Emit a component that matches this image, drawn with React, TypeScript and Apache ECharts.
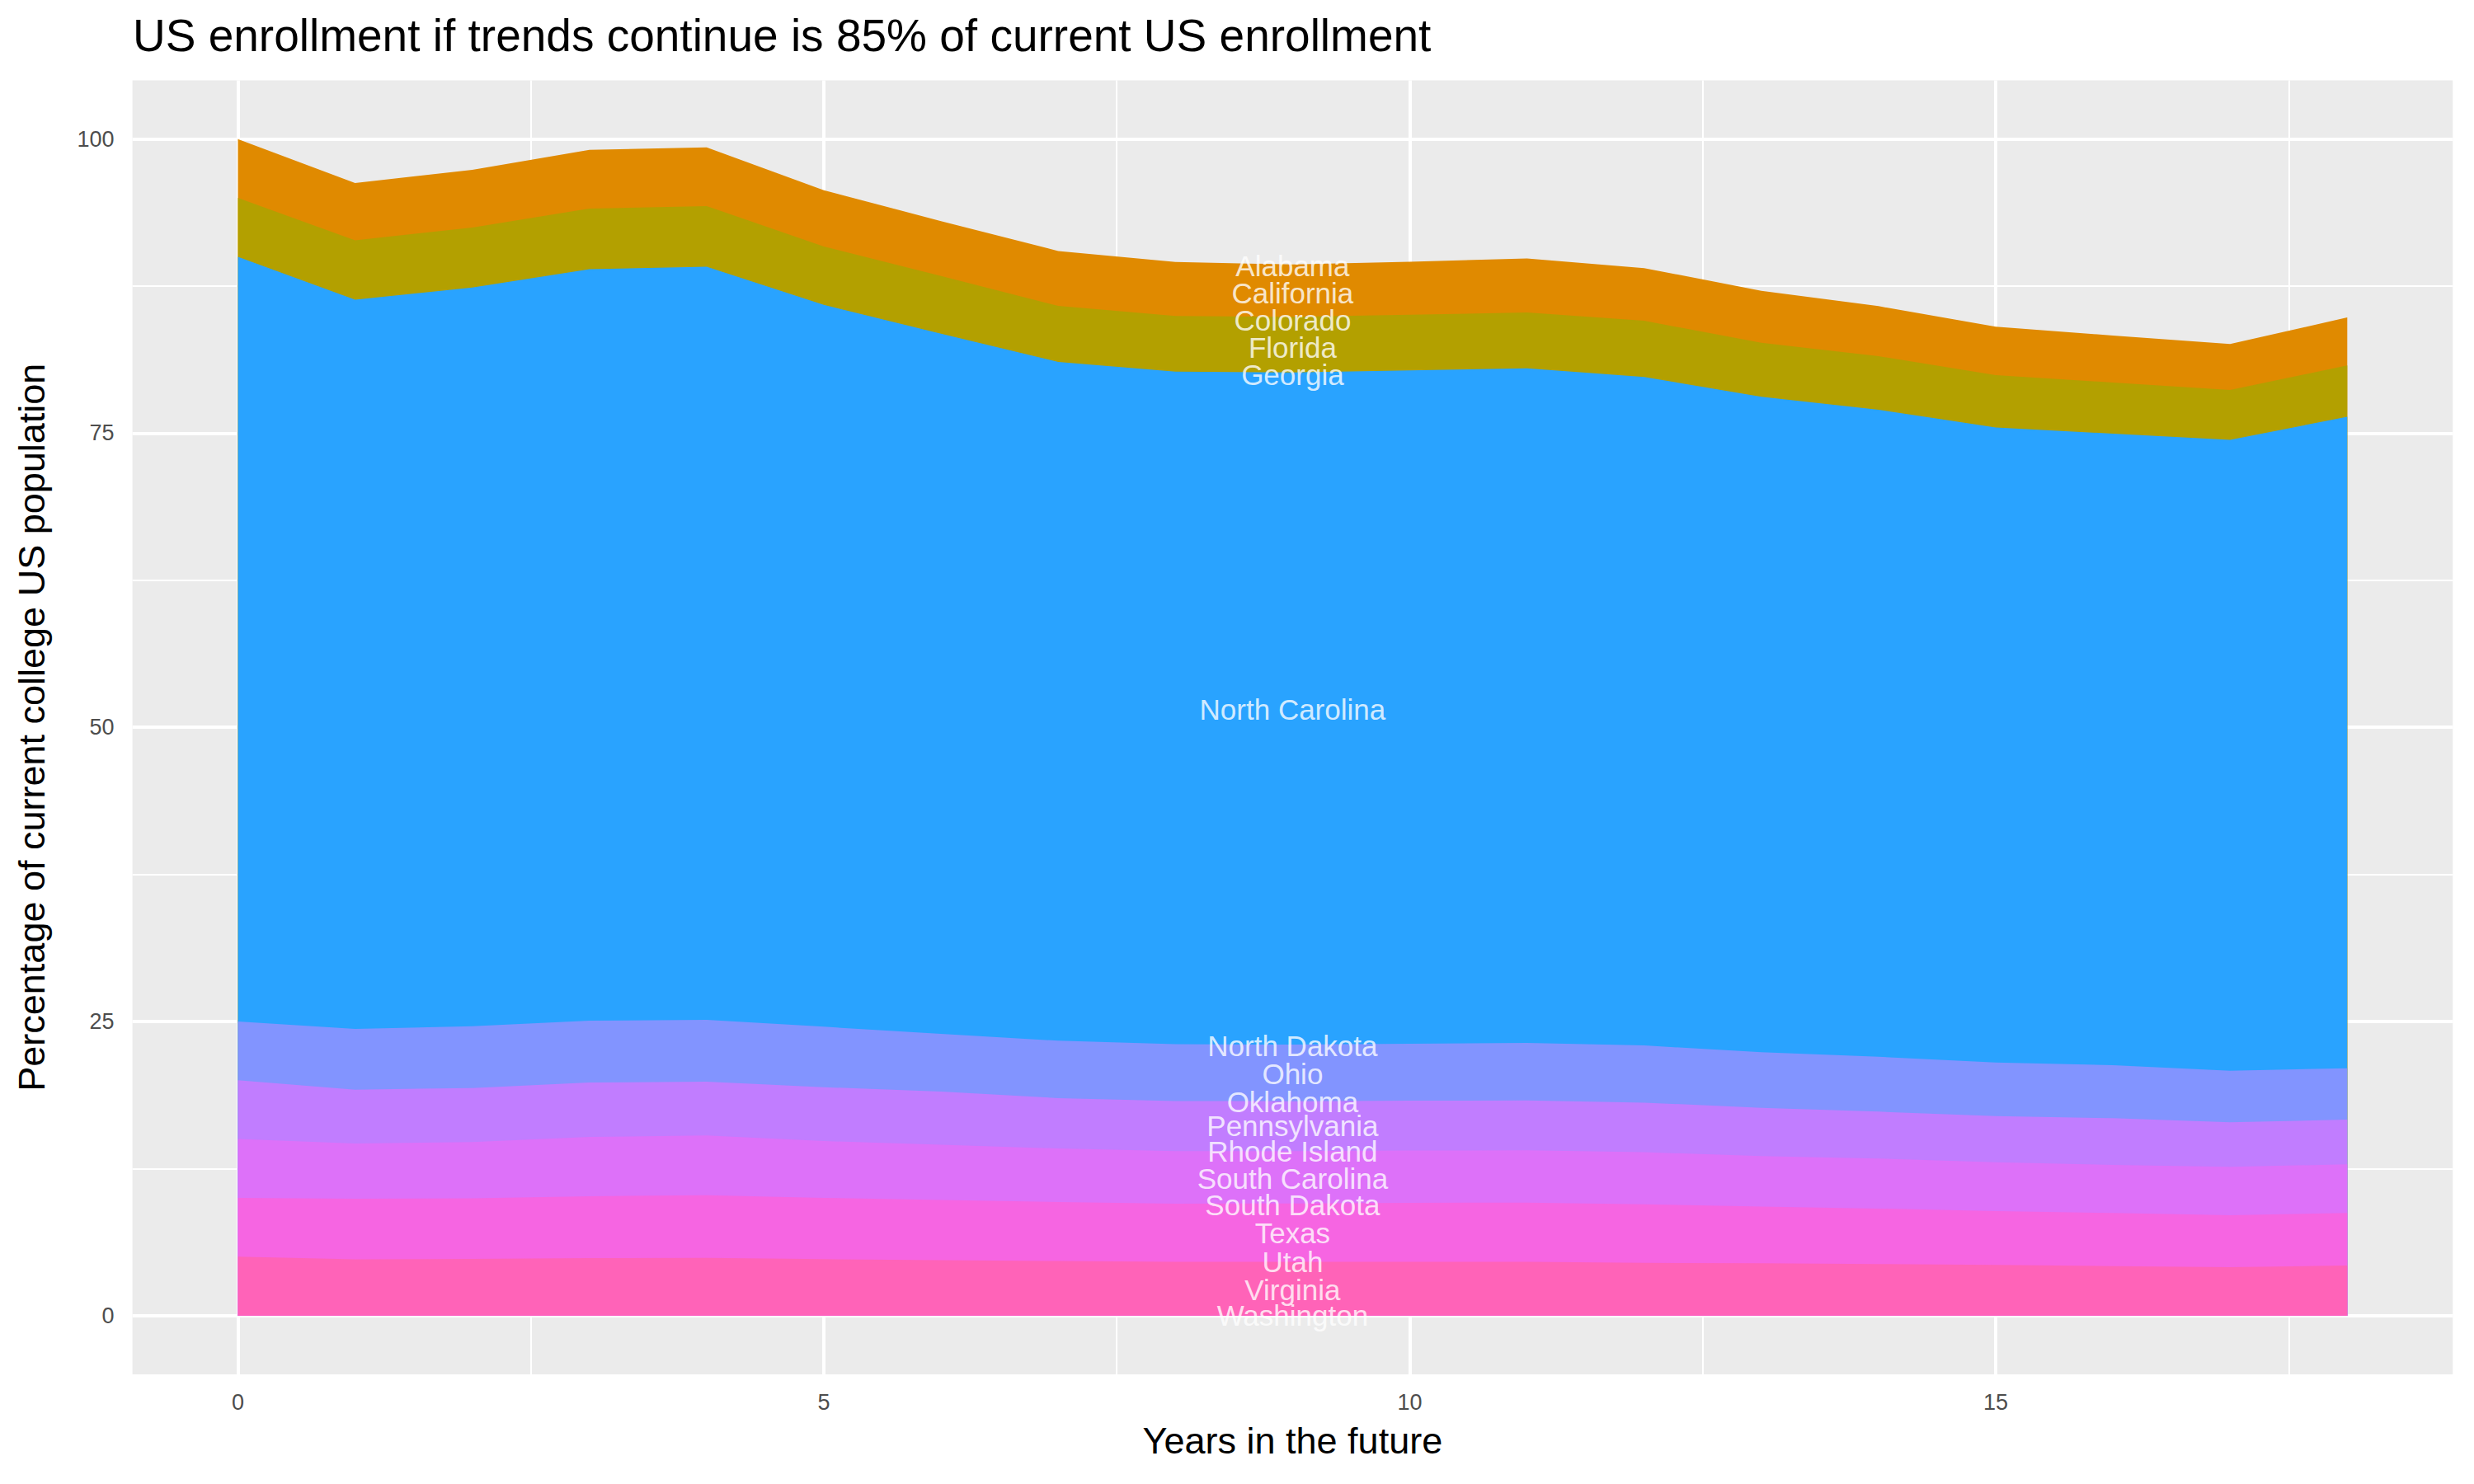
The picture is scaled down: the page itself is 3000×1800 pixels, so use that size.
import React, { useEffect, useRef } from 'react'
import * as echarts from 'echarts'

// years on the x axis
const years = [0, 1, 2, 3, 4, 5, 6, 7, 8, 9, 10, 11, 12, 13, 14, 15, 16, 17, 18]

// band values, bottom of the stack first
const washington = [5.0, 4.77, 4.81, 4.88, 4.9, 4.79, 4.7, 4.63, 4.56, 4.56, 4.56, 4.56, 4.48, 4.44, 4.37, 4.3, 4.2, 4.11, 4.25]
const virginia = [5.0, 5.16, 5.16, 5.26, 5.33, 5.21, 5.13, 5.02, 4.95, 4.96, 5.02, 5.04, 4.98, 4.83, 4.72, 4.58, 4.51, 4.42, 4.46]
const utah = [5.0, 4.69, 4.77, 5.04, 5.07, 4.83, 4.68, 4.55, 4.46, 4.45, 4.44, 4.44, 4.42, 4.28, 4.25, 4.15, 4.09, 4.11, 4.14]
const texas = [5.0, 4.58, 4.6, 4.63, 4.58, 4.58, 4.53, 4.28, 4.27, 4.25, 4.24, 4.25, 4.22, 4.11, 3.99, 3.93, 3.97, 3.78, 3.81]
const southDakota = [5.0, 5.16, 5.26, 5.25, 5.25, 5.14, 4.9, 4.88, 4.82, 4.81, 4.84, 4.88, 4.86, 4.72, 4.67, 4.55, 4.51, 4.39, 4.36]
const southCarolina = [65.0, 62.0, 62.78, 63.89, 64.03, 61.36, 59.52, 57.7, 57.18, 57.14, 57.24, 57.35, 56.82, 55.72, 55.0, 53.98, 53.68, 53.63, 55.38]
const colorado = [5.0, 5.04, 5.11, 5.15, 5.15, 4.97, 4.9, 4.76, 4.72, 4.73, 4.73, 4.74, 4.78, 4.59, 4.55, 4.45, 4.35, 4.24, 4.36]
const california = [5.0, 4.87, 4.9, 4.99, 4.99, 4.78, 4.67, 4.67, 4.59, 4.45, 4.5, 4.6, 4.48, 4.41, 4.25, 4.11, 4.0, 3.9, 4.08]

const bandNames = ['Washington', 'Virginia', 'Utah', 'Texas', 'South Dakota', 'South Carolina', 'Colorado', 'California']
const bandValues = [washington, virginia, utah, texas, southDakota, southCarolina, colorado, california]
const bandColors = ['#FF63B8', '#F665E2', '#DD71F9', '#C17DFF', '#8294FF', '#29A3FF', '#B3A000', '#E08A00']

// state labels at year 9
const labelYear = 9
const labelStates = ['Alabama', 'California', 'Colorado', 'Florida', 'Georgia', 'North Carolina', 'North Dakota', 'Ohio', 'Oklahoma', 'Pennsylvania', 'Rhode Island', 'South Carolina', 'South Dakota', 'Texas', 'Utah', 'Virginia', 'Washington']
const labelY = [89.19, 86.9, 84.61, 82.3, 79.97, 51.5, 22.95, 20.52, 18.14, 16.11, 13.93, 11.67, 9.4, 7.04, 4.54, 2.21, 0.0]

// axis breaks
const xTicks = [0, 5, 10, 15]
const xMinor = [2.5, 7.5, 12.5, 17.5]
const yTicks = [0, 25, 50, 75, 100]
const yMinor = [12.5, 37.5, 62.5, 87.5]

const FONT = '"Liberation Sans", Arial, Helvetica, sans-serif'

const App: React.FC = () => {
  const chartRef = useRef<HTMLDivElement>(null)

  useEffect(() => {
    if (!chartRef.current) return
    const chart = echarts.init(chartRef.current, undefined, { renderer: 'svg' })

    const gridLeft = 160.6
    const gridTop = 97.4
    const gridWidth = 2813.6
    const gridHeight = 1569.6

    const gridLines = [
      ...xMinor.map(v => ({ xAxis: v, lineStyle: { color: '#ffffff', width: 2, type: 'solid' } })),
      ...yMinor.map(v => ({ yAxis: v, lineStyle: { color: '#ffffff', width: 2, type: 'solid' } })),
      ...xTicks.map(v => ({ xAxis: v, lineStyle: { color: '#ffffff', width: 4, type: 'solid' } })),
      ...yTicks.map(v => ({ yAxis: v, lineStyle: { color: '#ffffff', width: 4, type: 'solid' } }))
    ]

    // running totals so each band's top edge is known; drawn top band first
    const cumulative = bandValues.map((_, k) =>
      years.map((_, i) => {
        let s = 0
        for (let j = 0; j <= k; j++) s += bandValues[j][i]
        return Math.round(s * 100) / 100
      })
    )

    const areaSeries = bandNames
      .map((name, k) => ({
        name,
        type: 'line',
        data: years.map((x, i) => [x, cumulative[k][i]]),
        symbol: 'none',
        showSymbol: false,
        lineStyle: { width: 0, color: bandColors[k] },
        itemStyle: { color: bandColors[k] },
        areaStyle: { color: bandColors[k], opacity: 1, origin: 'auto' },
        z: 3,
        silent: true
      }))
      .reverse()

    const option: any = {
      animation: false,
      backgroundColor: '#ffffff',
      textStyle: { fontFamily: FONT },
      grid: {
        left: gridLeft,
        top: gridTop,
        width: gridWidth,
        height: gridHeight,
        show: true,
        backgroundColor: '#EBEBEB',
        borderWidth: 0
      },
      xAxis: {
        type: 'value',
        min: -0.9,
        max: 18.9,
        axisLine: { show: false },
        splitLine: { show: false },
        minorSplitLine: { show: false },
        axisTick: {
          show: true,
          customValues: xTicks,
          length: 9,
          lineStyle: { color: '#333333', width: 3.5 }
        },
        axisLabel: {
          customValues: xTicks,
          color: '#4D4D4D',
          fontSize: 27,
          fontFamily: FONT,
          margin: 20
        }
      },
      yAxis: {
        type: 'value',
        min: -5,
        max: 105,
        axisLine: { show: false },
        splitLine: { show: false },
        minorSplitLine: { show: false },
        axisTick: {
          show: true,
          customValues: yTicks,
          length: 9,
          lineStyle: { color: '#333333', width: 3.5 }
        },
        axisLabel: {
          customValues: yTicks,
          color: '#4D4D4D',
          fontSize: 27,
          fontFamily: FONT,
          margin: 22
        }
      },
      graphic: [
        {
          type: 'text',
          x: 161,
          y: 43,
          style: {
            text: 'US enrollment if trends continue is 85% of current US enrollment',
            fontSize: 55,
            fontFamily: FONT,
            fill: '#000000',
            align: 'left',
            verticalAlign: 'middle'
          }
        },
        {
          type: 'text',
          x: gridLeft + gridWidth / 2,
          y: 1747,
          style: {
            text: 'Years in the future',
            fontSize: 45,
            fontFamily: FONT,
            fill: '#000000',
            align: 'center',
            verticalAlign: 'middle'
          }
        },
        {
          type: 'text',
          x: 38,
          y: gridTop + gridHeight / 2,
          rotation: Math.PI / 2,
          style: {
            text: 'Percentage of current college US population',
            fontSize: 45,
            fontFamily: FONT,
            fill: '#000000',
            align: 'center',
            verticalAlign: 'middle'
          }
        }
      ],
      series: [
        {
          name: 'grid',
          type: 'line',
          data: [[0, 0]],
          symbol: 'none',
          lineStyle: { opacity: 0 },
          z: 1,
          silent: true,
          markLine: {
            silent: true,
            z: 1,
            symbol: ['none', 'none'],
            label: { show: false },
            emphasis: { disabled: true },
            data: gridLines
          }
        },
        ...areaSeries,
        {
          name: 'labels',
          type: 'scatter',
          data: labelStates.map((s, i) => ({ name: s, value: [labelYear, labelY[i]] })),
          symbol: 'circle',
          symbolSize: 1,
          itemStyle: { color: 'rgba(0,0,0,0)' },
          label: {
            show: true,
            position: 'inside',
            formatter: '{b}',
            color: '#ffffff',
            fontSize: 35,
            fontFamily: FONT
          },
          z: 4,
          silent: true
        }
      ]
    }

    chart.setOption(option)

    return () => {
      chart.dispose()
    }
  }, [])

  return (
    <div
      ref={chartRef}
      style={{ position: 'absolute', left: 0, top: 0, width: 3000, height: 1800, background: '#ffffff' }}
    />
  )
}

export default App
